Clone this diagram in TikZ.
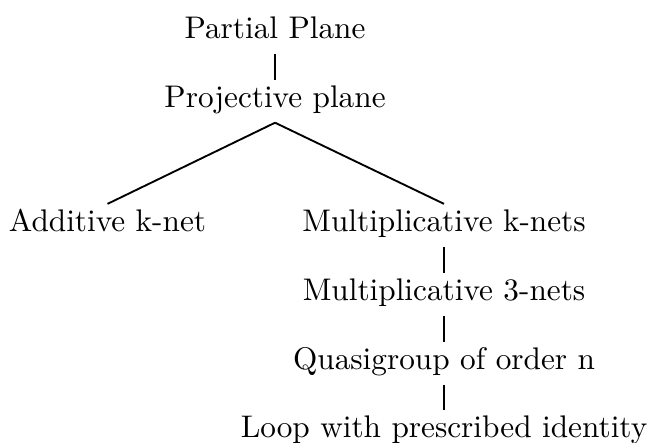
\documentclass[tikz,border=0pt]{standalone}
\usepackage{tikz}
\tikzset{term/.style={anchor=base, inner sep=0pt, text height=8.4pt, text depth=4.7pt}}

\begin{document}
\begin{tikzpicture}[scale=0.985, semithick]
    \useasboundingbox (0,0) rectangle (7.406,5.045);
    \node[term] (part)  at (3.139,4.611) {Partial Plane};
    \node[term] (proj)  at (3.139,3.823) {Projective plane};
    \node[term] (add)   at (1.227,2.408) {Additive k-net};
    \node[term] (multk) at (5.067,2.408) {Multiplicative k-nets};
    \node[term] (mult3) at (5.067,1.621) {Multiplicative 3-nets};
    \node[term] (quasi) at (5.067,0.833) {Quasigroup of order n};
    \node[term] (loop)  at (5.067,0.057) {Loop with prescribed identity};
    \foreach \a/\b in {part/proj, multk/mult3, mult3/quasi, quasi/loop}
        \draw (\a.south) -- (\b.north);
    \foreach \b in {add, multk}
        \draw (proj.south) -- (\b.north);
\end{tikzpicture}
\end{document}
